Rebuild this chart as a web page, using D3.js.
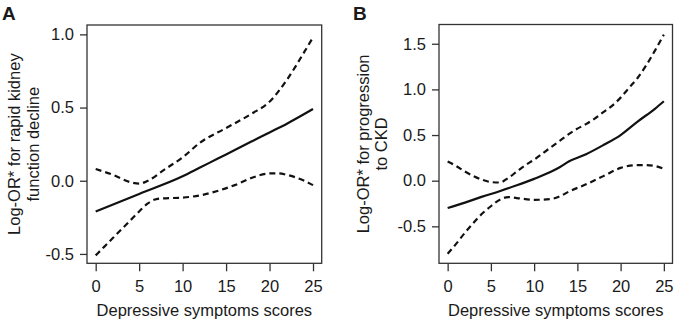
<!DOCTYPE html>
<html>
<head>
<meta charset="utf-8">
<script src="https://cdn.jsdelivr.net/npm/d3@7"></script>
<style>
  body { margin: 0; background: #fff; }
  svg text { font-family: "Liberation Sans", Arial, sans-serif; fill: #1a1a1a; }
</style>
</head>
<body>
<svg id="chart"></svg>
<script>
// depressive symptom score grid and log-OR estimates with 95% bands
var xTicks = [0, 5, 10, 15, 20, 25];

// panel A: rapid kidney function decline
var aYTicks = [-0.5, 0.0, 0.5, 1.0];
var aFitX = [0, 5, 10, 12, 14, 16, 18, 20, 22, 25];
var aFit = [-0.21, -0.09, 0.03, 0.09, 0.15, 0.21, 0.27, 0.33, 0.39, 0.49];
var aUpperX = [0, 2, 4, 5, 6, 8, 10, 12, 15, 18, 20, 22, 24, 25];
var aUpper = [0.08, 0.04, -0.01, -0.02, 0.0, 0.08, 0.16, 0.26, 0.36, 0.46, 0.54, 0.69, 0.88, 0.98];
var aLowerX = [0, 1, 2, 3, 4, 5, 6, 7, 8, 10, 12, 14, 16, 18, 20, 21, 22, 24, 25];
var aLower = [-0.51, -0.45, -0.39, -0.33, -0.27, -0.21, -0.155, -0.125, -0.12, -0.115, -0.10, -0.07, -0.03, 0.02, 0.05, 0.05, 0.04, 0.0, -0.03];

// panel B: progression to CKD
var bYTicks = [-0.5, 0.0, 0.5, 1.0, 1.5];
var bFitX = [0, 2, 4, 6, 8, 10, 12, 13, 14, 16, 18, 20, 22, 24, 25];
var bFit = [-0.30, -0.24, -0.175, -0.115, -0.05, 0.02, 0.10, 0.15, 0.21, 0.29, 0.39, 0.50, 0.65, 0.79, 0.87];
var bUpperX = [0, 1, 2, 3, 4, 5, 6, 7, 8, 9, 10, 11, 12, 13, 14, 15, 16, 17, 18, 19, 20, 21, 22, 23, 24, 25];
var bUpper = [0.21, 0.16, 0.10, 0.05, 0.01, -0.015, -0.02, 0.03, 0.10, 0.17, 0.23, 0.30, 0.37, 0.44, 0.51, 0.57, 0.62, 0.68, 0.75, 0.82, 0.91, 1.02, 1.13, 1.27, 1.43, 1.60];
var bLowerX = [0, 1, 2, 3, 4, 5, 6, 7, 8, 10, 12, 13, 14, 16, 18, 20, 22, 23, 24, 25];
var bLower = [-0.80, -0.69, -0.57, -0.46, -0.36, -0.28, -0.21, -0.18, -0.19, -0.21, -0.20, -0.17, -0.12, -0.04, 0.05, 0.14, 0.17, 0.17, 0.16, 0.13];

var svgWidth = 674, svgHeight = 321;
var svg = d3.select("#chart")
  .attr("width", svgWidth)
  .attr("height", svgHeight);

// plain hyphen for negatives, like R prints them
var fmtY = function(d) { return d3.format(".1f")(d).replace("\u2212", "-"); };

function zip(xs, ys) {
  return xs.map(function(x, i) { return [x, ys[i]]; });
}

function drawPanel(p) {
  var x = d3.scaleLinear().domain([-1, 26]).range([p.left, p.right]);
  var y = d3.scaleLinear().domain(p.yDomain).range([p.bottom, p.top]);

  // frame
  svg.append("rect")
    .attr("x", p.left).attr("y", p.top)
    .attr("width", p.right - p.left).attr("height", p.bottom - p.top)
    .attr("fill", "none").attr("stroke", "#333").attr("stroke-width", 1.3);

  // x axis
  var xAxis = svg.append("g")
    .attr("transform", "translate(0," + p.bottom + ")")
    .call(d3.axisBottom(x).tickValues(xTicks).tickSize(8).tickPadding(9).tickFormat(d3.format("d")));
  xAxis.select(".domain").remove();
  xAxis.selectAll("line").attr("stroke", "#333").attr("stroke-width", 1.3);
  xAxis.selectAll("text").attr("font-size", "16.5px").attr("font-family", null);

  // y axis
  var yAxis = svg.append("g")
    .attr("transform", "translate(" + p.left + ",0)")
    .call(d3.axisLeft(y).tickValues(p.yTicks).tickSize(7).tickPadding(6).tickFormat(fmtY));
  yAxis.select(".domain").remove();
  yAxis.selectAll("line").attr("stroke", "#333").attr("stroke-width", 1.3);
  yAxis.selectAll("text").attr("font-size", "16.5px").attr("font-family", null);

  var line = d3.line()
    .x(function(d) { return x(d[0]); })
    .y(function(d) { return y(d[1]); })
    .curve(d3.curveMonotoneX);

  svg.append("path").datum(zip(p.upperX, p.upper))
    .attr("d", line).attr("fill", "none").attr("stroke", "#111")
    .attr("stroke-width", 2.2).attr("stroke-dasharray", "6,4");
  svg.append("path").datum(zip(p.lowerX, p.lower))
    .attr("d", line).attr("fill", "none").attr("stroke", "#111")
    .attr("stroke-width", 2.2).attr("stroke-dasharray", "6,4");
  svg.append("path").datum(zip(p.fitX, p.fit))
    .attr("d", line).attr("fill", "none").attr("stroke", "#111")
    .attr("stroke-width", 2.2);

  // titles
  svg.append("text")
    .attr("x", (x(0) + x(25)) / 2).attr("y", 316)
    .attr("text-anchor", "middle").attr("font-size", "16.5px")
    .text("Depressive symptoms scores");

  var cy = (p.top + p.bottom) / 2;
  p.yTitle.forEach(function(t, i) {
    svg.append("text")
      .attr("transform", "translate(" + p.yTitleX[i] + "," + cy + ") rotate(-90)")
      .attr("text-anchor", "middle").attr("font-size", "16.5px")
      .text(t);
  });

  svg.append("text")
    .attr("x", p.tagX).attr("y", 20)
    .attr("font-size", "19px").attr("font-weight", "bold")
    .text(p.tag);
}

drawPanel({
  tag: "A", tagX: 2,
  left: 87, right: 321.7, top: 25, bottom: 263.3,
  yDomain: [-0.564, 1.064], yTicks: aYTicks,
  fitX: aFitX, fit: aFit, upperX: aUpperX, upper: aUpper, lowerX: aLowerX, lower: aLower,
  yTitle: ["Log-OR* for rapid kidney", "function decline"], yTitleX: [20, 39]
});

drawPanel({
  tag: "B", tagX: 353,
  left: 439, right: 672.5, top: 24.5, bottom: 263.3,
  yDomain: [-0.905, 1.711], yTicks: bYTicks,
  fitX: bFitX, fit: bFit, upperX: bUpperX, upper: bUpper, lowerX: bLowerX, lower: bLower,
  yTitle: ["Log-OR* for progression", "to CKD"], yTitleX: [369, 387]
});
</script>
</body>
</html>
